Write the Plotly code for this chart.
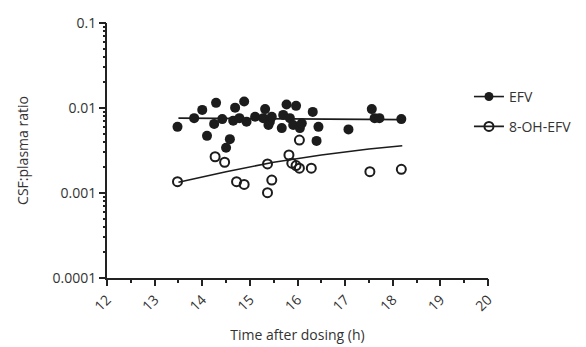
import plotly.graph_objects as go

# EFV (filled circles)
efv_time = [13.48, 13.83, 14.0, 14.29, 14.25, 14.1, 14.42, 14.58, 14.5,
            14.88, 14.69, 14.65, 14.78, 14.93, 15.11, 15.32, 15.28, 15.42,
            15.39, 15.46, 15.77, 15.97, 15.70, 15.84, 15.67, 15.91, 16.05,
            16.09, 16.32, 16.44, 16.4, 17.07, 17.56, 17.62, 17.72, 18.18]
efv_ratio = [0.0060, 0.0076, 0.0095, 0.0115, 0.0065, 0.0047, 0.0074, 0.0043, 0.0034,
             0.0119, 0.0101, 0.0071, 0.0076, 0.0069, 0.0079, 0.0097, 0.0076, 0.0069,
             0.0063, 0.0079, 0.0110, 0.0106, 0.0083, 0.0076, 0.0058, 0.0063, 0.0058,
             0.0066, 0.0090, 0.0060, 0.0041, 0.0056, 0.0097, 0.0076, 0.0076, 0.0074]

# 8-OH-EFV (open circles)
oh_time = [13.48, 14.27, 14.47, 14.72, 14.88, 15.37, 15.46, 15.37, 15.82,
           15.88, 15.97, 16.04, 16.29, 16.04, 17.52, 18.18]
oh_ratio = [0.00136, 0.00267, 0.0023, 0.00136, 0.00126, 0.0022, 0.00142, 0.00101, 0.0028,
            0.00224, 0.0021, 0.00196, 0.00196, 0.0042, 0.00178, 0.0019]

# fitted trend lines
efv_fit_time = [13.5, 18.2]
efv_fit_ratio = [0.0076, 0.0073]
oh_fit_time = [13.5, 14.5, 15.5, 16.5, 17.5, 18.2]
oh_fit_ratio = [0.00134, 0.00178, 0.0023, 0.0028, 0.0033, 0.0036]

x_range = [12, 20]
y_range_log = [-4, -1]

ink = "#1c1c1c"
axc = "#222222"
font = "Open Sans"
tf = dict(family=font, size=14, color="#333333")

fig = go.Figure()
fig.add_trace(go.Scatter(x=efv_fit_time, y=efv_fit_ratio, mode="lines",
                         line=dict(color=ink, width=1.6), showlegend=False))
fig.add_trace(go.Scatter(x=oh_fit_time, y=oh_fit_ratio, mode="lines",
                         line=dict(color=ink, width=1.6), showlegend=False))
fig.add_trace(go.Scatter(x=efv_time, y=efv_ratio, mode="markers",
                         marker=dict(symbol="circle", size=10, color=ink),
                         showlegend=False))
fig.add_trace(go.Scatter(x=oh_time, y=oh_ratio, mode="markers",
                         marker=dict(symbol="circle-open", size=9, color=ink,
                                     line=dict(width=2, color=ink)),
                         showlegend=False))
# legend entries
fig.add_trace(go.Scatter(x=[None], y=[None], mode="lines+markers", name="EFV",
                         line=dict(color=ink, width=1.6),
                         marker=dict(symbol="circle", size=9, color=ink),
                         legend="legend"))
fig.add_trace(go.Scatter(x=[None], y=[None], mode="lines+markers", name="8-OH-EFV",
                         line=dict(color=ink, width=1.6),
                         marker=dict(symbol="circle-open", size=9, color=ink,
                                     line=dict(width=2, color=ink)),
                         legend="legend2"))
# empty trace to host the minor-tick overlay axes
fig.add_trace(go.Scatter(x=[None], y=[None], xaxis="x2", yaxis="y2",
                         showlegend=False, hoverinfo="skip"))

fig.update_layout(
    width=578, height=339,
    margin=dict(l=99, r=98, t=15, b=69, pad=0, autoexpand=False),
    paper_bgcolor="white", plot_bgcolor="white",
    font=tf,
    legend=dict(x=0.95, y=0.71, xanchor="left", yanchor="middle",
                bgcolor="rgba(0,0,0,0)", itemwidth=30, font=tf),
    legend2=dict(x=0.95, y=0.593, xanchor="left", yanchor="middle",
                 bgcolor="rgba(0,0,0,0)", itemwidth=30, font=tf),
    xaxis=dict(range=x_range, tickmode="linear", tick0=12, dtick=1,
               tickangle=-45, tickfont=tf, automargin=False,
               showline=True, linecolor=axc, linewidth=2,
               ticks="outside", ticklen=6, tickwidth=2, tickcolor=axc,
               showgrid=False, zeroline=False,
               title=dict(text="Time after dosing (h)", standoff=16, font=tf)),
    yaxis=dict(type="log", range=y_range_log, dtick=1, exponentformat="none",
               tickfont=tf, automargin=False,
               showline=True, linecolor=axc, linewidth=2,
               ticks="outside", ticklen=6, tickwidth=2, tickcolor=axc,
               showgrid=False, zeroline=False,
               title=dict(text="CSF:plasma ratio", standoff=21, font=tf)),
    xaxis2=dict(range=x_range, overlaying="x", anchor="y2", side="bottom",
                tickmode="linear", tick0=12, dtick=0.5, automargin=False,
                ticks="outside", ticklen=4, tickwidth=1.5, tickcolor=axc,
                showticklabels=False, showline=False, showgrid=False,
                zeroline=False),
    yaxis2=dict(type="log", range=y_range_log, overlaying="y", anchor="x2",
                side="left", dtick="D1", automargin=False,
                ticks="outside", ticklen=3, tickwidth=1.5, tickcolor=axc,
                showticklabels=False, showline=False, showgrid=False,
                zeroline=False),
)

fig.write_html("out.html")
